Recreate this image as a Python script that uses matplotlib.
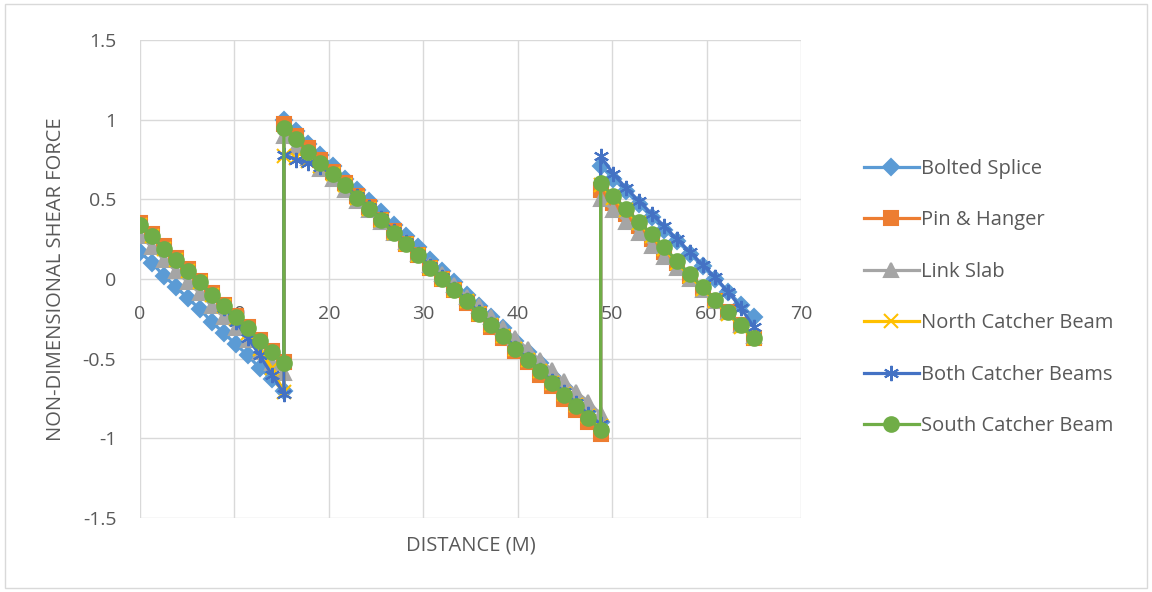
import matplotlib.pyplot as plt
from matplotlib.patches import Rectangle

# distance along the girder (m); repeated x at the supports gives the vertical jumps
x = [0, 1.27, 2.54, 3.81, 5.08, 6.35, 7.62, 8.89, 10.16, 11.43, 12.70, 13.97, 15.24,
     15.24, 16.53, 17.82, 19.11, 20.40, 21.69, 22.98, 24.27, 25.56, 26.85, 28.14, 29.43,
     30.72, 32.01, 33.30, 34.59, 35.88, 37.17, 38.46, 39.75, 41.04, 42.33, 43.62, 44.91,
     46.20, 47.49, 48.78,
     48.78, 50.13, 51.48, 52.83, 54.18, 55.53, 56.88, 58.23, 59.58, 60.93, 62.28, 63.63, 64.98]

bolted_splice = [0.17, 0.10, 0.02, -0.05, -0.12, -0.19, -0.27, -0.34, -0.41, -0.48, -0.56, -0.63, -0.70,
                 1.00, 0.93, 0.85, 0.78, 0.71, 0.63, 0.56, 0.49, 0.42, 0.34, 0.27, 0.20,
                 0.12, 0.05, -0.02, -0.10, -0.17, -0.24, -0.31, -0.39, -0.46, -0.53, -0.61, -0.68,
                 -0.75, -0.83, -0.90,
                 0.71, 0.63, 0.55, 0.47, 0.39, 0.31, 0.24, 0.16, 0.08, 0.00, -0.08, -0.16, -0.24]
pin_hanger = [0.35, 0.28, 0.21, 0.13, 0.06, -0.01, -0.09, -0.16, -0.23, -0.30, -0.38, -0.45, -0.52,
              0.97, 0.90, 0.82, 0.75, 0.67, 0.60, 0.52, 0.45, 0.37, 0.30, 0.22, 0.15,
              0.07, 0.00, -0.07, -0.15, -0.22, -0.30, -0.37, -0.45, -0.52, -0.60, -0.67, -0.75,
              -0.82, -0.90, -0.97,
              0.56, 0.48, 0.41, 0.33, 0.25, 0.17, 0.10, 0.02, -0.06, -0.14, -0.21, -0.29, -0.37]
link_slab = [0.27, 0.20, 0.12, 0.05, -0.02, -0.09, -0.17, -0.24, -0.31, -0.38, -0.46, -0.53, -0.59,
             0.90, 0.83, 0.76, 0.69, 0.63, 0.56, 0.49, 0.43, 0.36, 0.29, 0.23, 0.16,
             0.09, 0.03, -0.04, -0.11, -0.17, -0.24, -0.31, -0.37, -0.44, -0.51, -0.57, -0.64,
             -0.71, -0.77, -0.85,
             0.50, 0.43, 0.36, 0.29, 0.21, 0.14, 0.07, 0.00, -0.07, -0.14, -0.21, -0.29, -0.36]
north_catcher = [0.34, 0.27, 0.19, 0.12, 0.05, -0.02, -0.10, -0.17, -0.25, -0.34, -0.44, -0.56, -0.71,
                 0.77, 0.76, 0.74, 0.71, 0.66, 0.59, 0.51, 0.44, 0.37, 0.29, 0.22, 0.15,
                 0.07, 0.00, -0.07, -0.14, -0.22, -0.29, -0.36, -0.44, -0.51, -0.58, -0.65, -0.72,
                 -0.79, -0.86, -0.92,
                 0.59, 0.51, 0.43, 0.35, 0.27, 0.19, 0.10, 0.02, -0.06, -0.14, -0.22, -0.30, -0.37]
both_catchers = [0.34, 0.27, 0.19, 0.12, 0.05, -0.02, -0.10, -0.18, -0.27, -0.37, -0.48, -0.60, -0.72,
                 0.78, 0.75, 0.73, 0.70, 0.66, 0.59, 0.52, 0.45, 0.38, 0.30, 0.23, 0.16,
                 0.08, 0.01, -0.06, -0.13, -0.21, -0.28, -0.35, -0.43, -0.50, -0.57, -0.64, -0.71,
                 -0.78, -0.85, -0.91,
                 0.77, 0.66, 0.57, 0.49, 0.41, 0.33, 0.25, 0.17, 0.09, 0.01, -0.08, -0.18, -0.30]
south_catcher = [0.34, 0.27, 0.19, 0.12, 0.05, -0.02, -0.10, -0.17, -0.24, -0.31, -0.39, -0.46, -0.53,
                 0.95, 0.88, 0.80, 0.73, 0.66, 0.59, 0.51, 0.44, 0.37, 0.29, 0.22, 0.15,
                 0.07, 0.00, -0.07, -0.14, -0.22, -0.29, -0.36, -0.44, -0.51, -0.58, -0.65, -0.73,
                 -0.80, -0.87, -0.95,
                 0.60, 0.52, 0.44, 0.36, 0.28, 0.20, 0.11, 0.03, -0.05, -0.13, -0.21, -0.29, -0.37]

series = [
    ("Bolted Splice", bolted_splice, "#5B9BD5", "D", 8.5),
    ("Pin & Hanger", pin_hanger, "#ED7D31", "s", 9.5),
    ("Link Slab", link_slab, "#A5A5A5", "^", 9.5),
    ("North Catcher Beam", north_catcher, "#FFC000", "x", 9.5),
    ("Both Catcher Beams", both_catchers, "#4472C4", (6, 2, 0), 11),
    ("South Catcher Beam", south_catcher, "#70AD47", "o", 10.5),
]

plt.rcParams['font.family'] = ['Open Sans', 'DejaVu Sans']
txt = "#595959"

fig = plt.figure(figsize=(11.52, 5.92), dpi=100)
ax = fig.add_axes([0.1215, 0.125, 0.5738, 0.8074])

for name, y, c, m, ms in series:
    ax.plot(x, y, color=c, lw=2.3, marker=m, ms=ms, mfc=c, mec=c, mew=1.5, label=name)

ax.set_xlim(0, 70)
ax.set_ylim(-1.5, 1.5)
ax.set_xticks(range(0, 71, 10))
ax.set_yticks([-1.5, -1, -0.5, 0, 0.5, 1, 1.5])
ax.set_yticklabels(["-1.5", "-1", "-0.5", "0", "0.5", "1", "1.5"])
ax.grid(True, color="#D9D9D9", lw=1)
ax.set_axisbelow(True)
for s in ax.spines.values():
    s.set_visible(False)
ax.spines['bottom'].set_position(('data', 0))
ax.tick_params(length=0, labelsize=14, colors=txt)
ax.tick_params(axis='x', pad=19)
ax.tick_params(axis='y', pad=17)

ax.set_xlabel("DISTANCE (M)", fontsize=14.5, color=txt)
ax.xaxis.set_label_coords(0.5, -0.036)
ax.set_ylabel("NON-DIMENSIONAL SHEAR FORCE", fontsize=14.5, color=txt)
ax.yaxis.set_label_coords(-0.112, 0.5)

fig.legend(loc="center left", bbox_to_anchor=(0.741, 0.4975), frameon=False,
           fontsize=14.5, labelcolor=txt, handlelength=2.75, handletextpad=0.1,
           labelspacing=1.56, borderpad=0)

fig.patches.append(Rectangle((0.004, 0.007), 0.992, 0.986, transform=fig.transFigure,
                             fill=False, ec="#D9D9D9", lw=1))

fig.savefig("out.png", dpi=100)
